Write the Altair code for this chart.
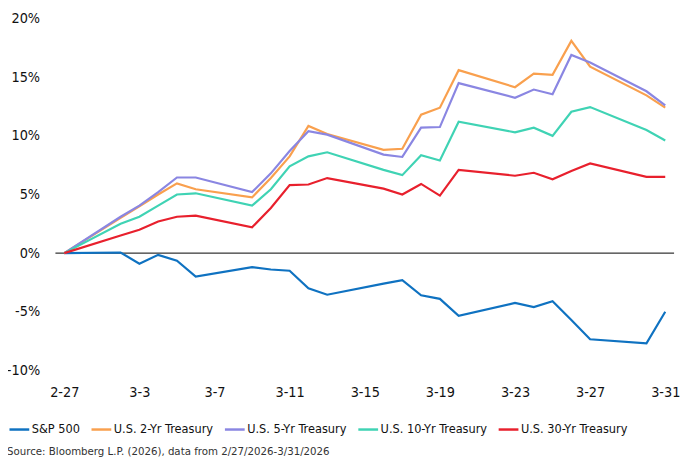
import altair as alt
import pandas as pd

dates = ["2026-02-27", "2026-03-02", "2026-03-03", "2026-03-04", "2026-03-05", "2026-03-06",
         "2026-03-09", "2026-03-10", "2026-03-11", "2026-03-12", "2026-03-13",
         "2026-03-16", "2026-03-17", "2026-03-18", "2026-03-19", "2026-03-20",
         "2026-03-23", "2026-03-24", "2026-03-25", "2026-03-26", "2026-03-27",
         "2026-03-30", "2026-03-31"]

sp500 = [0, 0.05, -0.9, -0.15, -0.65, -2.0, -1.2, -1.4, -1.5, -3.0, -3.55,
         -2.6, -2.3, -3.6, -3.9, -5.35, -4.25, -4.6, -4.1, -5.7, -7.35, -7.7, -5.0]
ust2 = [0, 3.0, 4.0, 5.0, 5.95, 5.45, 4.75, 6.4, 8.25, 10.85, 10.15,
        8.8, 8.9, 11.8, 12.4, 15.6, 14.15, 15.3, 15.2, 18.1, 15.9, 13.45, 12.4]
ust5 = [0, 3.1, 4.05, 5.2, 6.45, 6.45, 5.2, 6.8, 8.7, 10.4, 10.1,
        8.4, 8.2, 10.7, 10.75, 14.5, 13.25, 13.95, 13.55, 16.9, 16.25, 13.8, 12.6]
ust10 = [0, 2.5, 3.1, 4.05, 5.0, 5.1, 4.05, 5.45, 7.4, 8.25, 8.6,
         7.1, 6.65, 8.35, 7.9, 11.2, 10.3, 10.7, 10.0, 12.05, 12.45, 10.5, 9.6]
ust30 = [0, 1.5, 2.0, 2.7, 3.1, 3.2, 2.2, 3.85, 5.8, 5.85, 6.4,
         5.5, 5.0, 5.9, 4.9, 7.1, 6.6, 6.85, 6.3, 7.0, 7.65, 6.5, 6.5]

series_names = ["S&P 500", "U.S. 2-Yr Treasury", "U.S. 5-Yr Treasury",
                "U.S. 10-Yr Treasury", "U.S. 30-Yr Treasury"]
series_colors = ["#0f72c1", "#f9a04e", "#8a86e2", "#3fd3b4", "#e8202d"]
tick_labels = ["2-27", "3-3", "3-7", "3-11", "3-15", "3-19", "3-23", "3-27", "3-31"]
y_ticks = [-10, -5, 0, 5, 10, 15, 20]
source = "Source: Bloomberg L.P. (2026), data from 2/27/2026-3/31/2026"

FONT = "DejaVu Sans Condensed, sans-serif"

start = pd.Timestamp(dates[0])
days = [(pd.Timestamp(d) - start).days for d in dates]
rows = []
for k, (name, vals) in enumerate(zip(series_names, [sp500, ust2, ust5, ust10, ust30])):
    for d, v in zip(days, vals):
        rows.append({"day": d, "value": v, "series": name, "order": k})
df = pd.DataFrame(rows)

label_arr = "[" + ",".join("'" + t + "'" for t in tick_labels) + "]"

x_enc = alt.X("day:Q",
              scale=alt.Scale(domain=[-0.47, 32.47], nice=False, zero=False),
              axis=alt.Axis(values=[0, 4, 8, 12, 16, 20, 24, 28, 32],
                            labelExpr=label_arr + "[datum.value/4]",
                            title=None, domain=False, ticks=False, grid=False,
                            labelPadding=15, labelFontSize=14.5, labelColor="#111",
                            labelFont=FONT))
y_enc = alt.Y("value:Q",
              scale=alt.Scale(domain=[-10, 20], nice=False),
              axis=alt.Axis(values=y_ticks, labelExpr="datum.value + '%'",
                            title=None, domain=False, ticks=False, grid=False,
                            labelPadding=16, labelFontSize=14.5, labelColor="#111",
                            labelFont=FONT))

lines = alt.Chart(df).mark_line(strokeWidth=2.2).encode(
    x=x_enc,
    y=y_enc,
    color=alt.Color("series:N",
                    scale=alt.Scale(domain=series_names, range=series_colors),
                    sort=series_names,
                    legend=alt.Legend(orient="none", direction="horizontal",
                                      legendX=-48, legendY=404, title=None,
                                      symbolType="stroke", symbolSize=400,
                                      symbolStrokeWidth=2.5, labelFontSize=12.8,
                                      labelFont=FONT, labelColor="#111",
                                      columnPadding=6, labelOffset=1,
                                      labelLimit=300)),
    detail="series:N",
    order=alt.Order("order:Q"),
)

zero = alt.Chart(pd.DataFrame({"value": [0]})).mark_rule(color="#000", strokeWidth=1).encode(
    y=alt.Y("value:Q", scale=alt.Scale(domain=[-10, 20], nice=False))
)

src = alt.Chart(pd.DataFrame({"t": [source]})).mark_text(
    align="left", baseline="alphabetic", fontSize=11.5, font=FONT, color="#333"
).encode(x=alt.value(-49), y=alt.value(442), text="t:N")

chart = alt.layer(zero, lines, src).properties(
    width=626, height=356,
    autosize=alt.AutoSizeParams(type="none"),
    padding={"left": 48, "top": 8, "right": 6, "bottom": 90},
).configure_view(stroke=None)

chart.save("out.html", embed_options={"renderer": "svg", "actions": False})
